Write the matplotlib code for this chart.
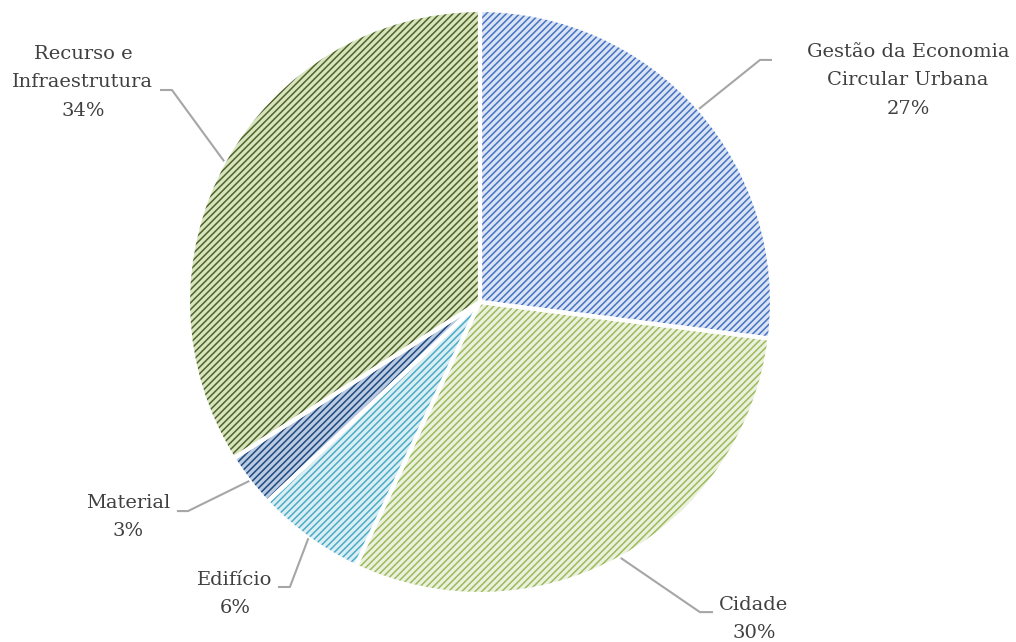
import numpy as np
import matplotlib
matplotlib.use("Agg")
import matplotlib.pyplot as plt

# dados do gráfico
categorias = ["Gestão da Economia\nCircular Urbana", "Cidade", "Edifício", "Material",
              "Recurso e\nInfraestrutura"]
valores = [27, 30, 6, 3, 34]
rotulos = ["27%", "30%", "6%", "3%", "34%"]

cor_fundo = ["#DAE3F3", "#EBF1DE", "#DAEEF3", "#B9CAE2", "#D7E4BD"]
cor_trama = ["#4472C4", "#9BBB59", "#4BACC6", "#1F497D", "#4F6228"]

# posição dos textos e dos cotovelos das linhas de chamada (em raios)
pos_texto = [(1.466, 0.76), (0.938, -1.086), (-0.839, -1.0), (-1.205, -0.736), (-1.36, 0.753)]
cotovelo = [(0.959, 0.829), (0.753, -1.062), (-0.651, -0.976), (-1.0, -0.716), (-1.055, 0.726)]
fim_linha = [(1.0, 0.829), (0.798, -1.062), (-0.692, -0.976), (-1.038, -0.716), (-1.096, 0.726)]

plt.rcParams['hatch.linewidth'] = 1.1

W, H = 1016, 642
cx, cy, r = 480, 302, 292
fig = plt.figure(figsize=(W / 100, H / 100), dpi=100)
ax = fig.add_axes([(cx - r) / W, (H - cy - r) / H, 2 * r / W, 2 * r / H])
ax.axis("off")

# fatias com trama diagonal
fatias, _ = ax.pie(valores, startangle=90, counterclock=False, radius=1,
                   colors=cor_fundo, wedgeprops=dict(linewidth=0))
for w, c in zip(fatias, cor_trama):
    w.set_hatch("/////")
    w.set_edgecolor(c)

# contorno branco entre as fatias
ax.pie(valores, startangle=90, counterclock=False, radius=1,
       colors=["none"] * len(valores),
       wedgeprops=dict(linewidth=3, edgecolor="white"))
ax.set_xlim(-1, 1)
ax.set_ylim(-1, 1)

# rótulos com linhas de chamada
for w, cat, rot, pt, cb, fl in zip(fatias, categorias, rotulos, pos_texto, cotovelo, fim_linha):
    ang = np.deg2rad((w.theta1 + w.theta2) / 2)
    x0, y0 = np.cos(ang), np.sin(ang)
    ax.plot([x0, cb[0], fl[0]], [y0, cb[1], fl[1]], color="#A6A6A6", lw=1.5,
            clip_on=False, solid_capstyle="butt")
    ax.text(pt[0], pt[1], cat + "\n" + rot, ha="center", va="center",
            fontsize=14, family="DejaVu Serif", color="#404040", linespacing=1.75)

fig.savefig("out.png", dpi=100)
